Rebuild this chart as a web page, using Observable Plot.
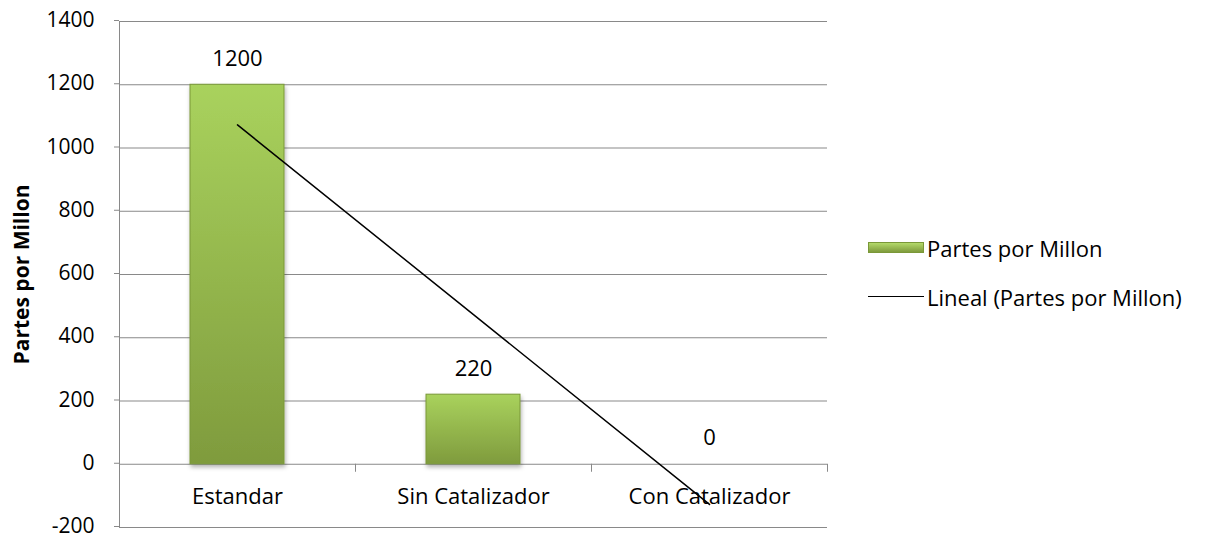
<!DOCTYPE html>
<html>
<head>
<meta charset="utf-8">
<script src="https://cdn.jsdelivr.net/npm/d3@7"></script>
<script src="https://cdn.jsdelivr.net/npm/@observablehq/plot@0.6"></script>
<style>
  body { margin: 0; background: #fff; }
  #wrap { position: relative; width: 1213px; height: 537px; font-family: "Open Sans", sans-serif; }
  #legend { position: absolute; left: 868px; top: 223px; font-size: 22px; color: #000; }
  .item { display: flex; align-items: center; height: 49px; }
  .sw { width: 56px; height: 11px; margin-right: 3px; background: linear-gradient(#b3d96a, #7f9b3d); border: 1px solid #7a9838; box-sizing: border-box; }
  .ln { width: 56px; height: 0; border-top: 1.5px solid #000; margin-right: 3px; }
</style>
</head>
<body>
<div id="wrap"></div>
<script>
const categories = ["Estandar", "Sin Catalizador", "Con Catalizador"];
const values = [1200, 220, 0];
const trendValues = [1073, 473, -127];
const yTicks = [-200, 0, 200, 400, 600, 800, 1000, 1200, 1400];
const seriesName = "Partes por Millon";
const trendName = "Lineal (Partes por Millon)";
const yTitle = "Partes por Millon";

const rows = categories.map((c, i) => ({cat: c, value: values[i]}));
const trendRows = categories.map((c, i) => ({cat: c, value: trendValues[i]}));

const gray = "#898989";
const half = 118;

const chart = Plot.plot({
  width: 1213,
  height: 537,
  marginLeft: 119,
  marginRight: 386,
  marginTop: 21,
  marginBottom: 10,
  style: {fontFamily: "Open Sans, sans-serif", fontSize: "22px", color: "#000", background: "#fff", overflow: "visible"},
  x: {domain: categories, padding: 0, axis: null},
  y: {domain: [-200, 1400], axis: null},
  marks: [
    Plot.gridY(yTicks, {stroke: gray, strokeOpacity: 1}),
    Plot.ruleX([categories[0]], {x: d => d, dx: -half, stroke: gray}),
    Plot.ruleX(categories, {x: d => d, dx: -half, y1: () => 0, y2: () => 0, insetBottom: -8, stroke: gray}),
    Plot.ruleX([categories[categories.length - 1]], {x: d => d, dx: half, y1: () => 0, y2: () => 0, insetBottom: -8, stroke: gray}),
    Plot.barY(rows, {x: "cat", y: "value", insetLeft: 71, insetRight: 71, fill: "url(#barGrad)", stroke: "#7a9838", strokeWidth: 1}),
    Plot.text(rows, {x: "cat", y: "value", text: d => String(d.value), dy: -26, fill: "#000"}),
    Plot.line(trendRows, {x: "cat", y: "value", stroke: "#000", strokeWidth: 1.5}),
    Plot.text(categories, {x: d => d, y: () => 0, text: d => d, dy: 33, fill: "#000"}),
    Plot.axisY({ticks: yTicks, tickSize: 5, tickPadding: 20, stroke: gray, fill: "#000", fontSize: 21, dy: -1, tickFormat: d => String(d), label: null}),
    Plot.text([yTitle], {frameAnchor: "left", textAnchor: "middle", text: d => d, rotate: -90, dx: -97, fontWeight: "bold", fontSize: 21, fill: "#000"})
  ]
});

const svg = d3.select(chart);
const defs = svg.insert("defs", ":first-child");
const g = defs.append("linearGradient").attr("id", "barGrad").attr("x1", 0).attr("y1", 0).attr("x2", 0).attr("y2", 1);
g.append("stop").attr("offset", "0%").attr("stop-color", "#a9d25d");
g.append("stop").attr("offset", "100%").attr("stop-color", "#7f9b3d");
const f = defs.append("filter").attr("id", "shadow").attr("x", "-20%").attr("y", "-20%").attr("width", "140%").attr("height", "140%");
f.append("feDropShadow").attr("dx", 1).attr("dy", 3).attr("stdDeviation", 2).attr("flood-color", "#000").attr("flood-opacity", 0.3);
svg.selectAll("g[fill='url(#barGrad)']").attr("filter", "url(#shadow)");

const wrap = document.getElementById("wrap");
wrap.appendChild(chart);
const legend = document.createElement("div");
legend.id = "legend";
legend.innerHTML = `<div class="item"><span class="sw"></span><span>${seriesName}</span></div><div class="item"><span class="ln"></span><span>${trendName}</span></div>`;
wrap.appendChild(legend);
</script>
</body>
</html>
